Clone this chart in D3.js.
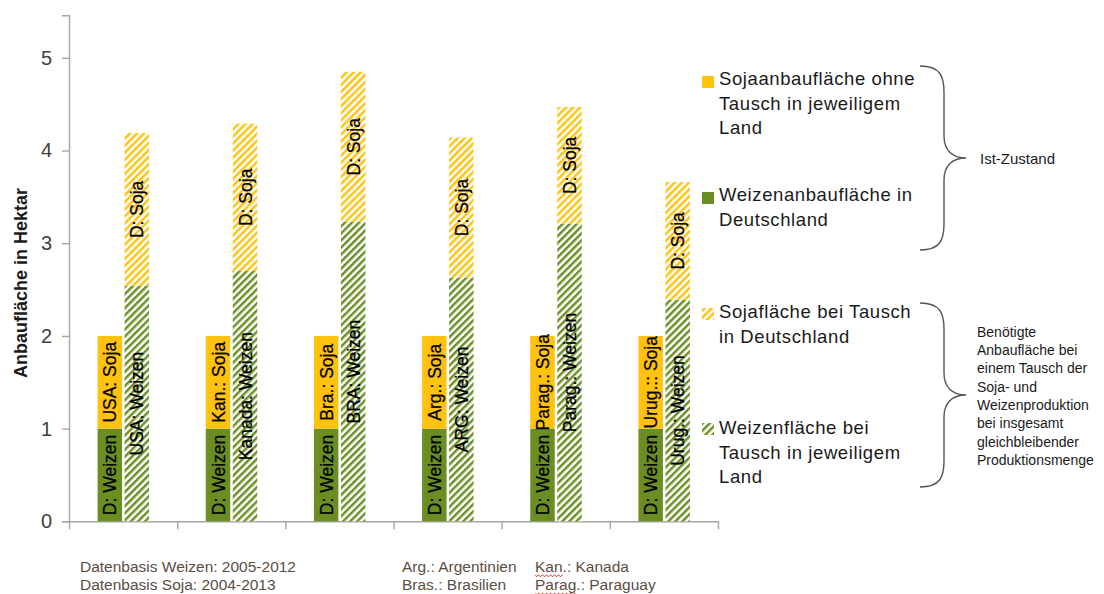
<!DOCTYPE html>
<html>
<head>
<meta charset="utf-8">
<script src="https://cdn.jsdelivr.net/npm/d3@7"></script>
<style>
  html, body { margin: 0; padding: 0; background: #fff; }
  svg { display: block; font-family: "Liberation Sans", Arial, sans-serif; }
</style>
</head>
<body>
<svg id="chart" width="1104" height="594"></svg>
<script>
// Anbaufläche je Länderpaar: Ist-Zustand vs. Tausch der Produktion
const categories = ["USA", "Kanada", "Brasilien", "Argentinien", "Paraguay", "Uruguay"];

// Ist-Zustand (gestapelt): Weizen in Deutschland + Soja im jeweiligen Land
const weizenDeutschland = [1, 1, 1, 1, 1, 1];
const sojaLand = [1, 1, 1, 1, 1, 1];

// Tausch (gestapelt): Weizen im jeweiligen Land + Soja in Deutschland
const weizenLandTausch = [2.54, 2.70, 3.23, 2.63, 3.21, 2.39];
const sojaDeutschlandTausch = [1.65, 1.59, 1.62, 1.51, 1.26, 1.27];

const labelWeizenDeutschland = ["D: Weizen", "D: Weizen", "D: Weizen", "D: Weizen", "D: Weizen", "D: Weizen"];
const labelSojaLand = ["USA: Soja", "Kan.: Soja", "Bra.: Soja", "Arg.: Soja", "Parag.: Soja", "Urug.:: Soja"];
const labelWeizenLand = ["USA: Weizen", "Kanada: Weizen", "BRA: Weizen", "ARG: Weizen", "Parag.: Weizen", "Urug.: Weizen"];
const labelSojaDeutschland = ["D: Soja", "D: Soja", "D: Soja", "D: Soja", "D: Soja", "D: Soja"];

const yTicks = [0, 1, 2, 3, 4, 5];

const GELB = "#FFC20E";
const GRUEN = "#6B8E23";

const svg = d3.select("#chart");

// Schraffuren für die Tausch-Balken
const defs = svg.append("defs");
function hatch(id, color) {
  const p = defs.append("pattern")
    .attr("id", id)
    .attr("patternUnits", "userSpaceOnUse")
    .attr("width", 5).attr("height", 5)
    .attr("patternTransform", "rotate(45)");
  p.append("rect").attr("width", 5).attr("height", 5).attr("fill", "#fff");
  p.append("line").attr("x1", 1.2).attr("y1", 0).attr("x2", 1.2).attr("y2", 5)
    .attr("stroke", color).attr("stroke-width", 2.5);
}
hatch("hatchGelb", GELB);
hatch("hatchGruen", GRUEN);

// Skalen
const y = d3.scaleLinear().domain([0, 5.46]).range([521.3, 15.2]);
const x = d3.scaleBand().domain(categories).range([69, 718]).paddingInner(0).paddingOuter(0);
const xEdges = d3.scaleLinear().domain([0, categories.length]).range([69, 718]);

const barW = 24.5;

// Achsen
const yAxis = svg.append("g")
  .attr("transform", "translate(69,0)")
  .call(d3.axisLeft(y).tickValues(yTicks).tickSize(7).tickPadding(10).tickFormat(d3.format("d")));
yAxis.select(".domain").attr("stroke", "#a6a6a6").attr("stroke-width", 1.4);
yAxis.selectAll(".tick line").attr("stroke", "#a6a6a6").attr("stroke-width", 1.4);
yAxis.selectAll(".tick text")
  .attr("fill", "#404040")
  .style("font-size", "20px")
  .style("font-family", "'Liberation Sans', Arial, sans-serif");

const xAxis = svg.append("g")
  .attr("transform", "translate(0,521.3)")
  .call(d3.axisBottom(xEdges).tickValues(d3.range(categories.length + 1)).tickSize(8).tickSizeOuter(0).tickFormat(""));
xAxis.select(".domain").attr("stroke", "#a6a6a6").attr("stroke-width", 1.4);
xAxis.selectAll(".tick line").attr("stroke", "#a6a6a6").attr("stroke-width", 1.4);

// Achsentitel
svg.append("text")
  .attr("transform", "translate(21,283) rotate(-90)")
  .attr("text-anchor", "middle")
  .attr("dominant-baseline", "central")
  .style("font-size", "18px")
  .style("font-weight", "bold")
  .attr("fill", "#1a1a1a")
  .text("Anbaufläche in Hektar");

// Segmente aufbauen
const segments = [];
categories.forEach((c, i) => {
  const cx = x(c) + x.bandwidth() / 2;
  segments.push({ x: cx - 25.5, y0: 0, y1: weizenDeutschland[i], fill: GRUEN, label: labelWeizenDeutschland[i] });
  segments.push({ x: cx - 25.5, y0: weizenDeutschland[i], y1: weizenDeutschland[i] + sojaLand[i], fill: GELB, label: labelSojaLand[i] });
  segments.push({ x: cx + 1.5, y0: 0, y1: weizenLandTausch[i], fill: "url(#hatchGruen)", label: labelWeizenLand[i] });
  segments.push({ x: cx + 1.5, y0: weizenLandTausch[i], y1: weizenLandTausch[i] + sojaDeutschlandTausch[i], fill: "url(#hatchGelb)", label: labelSojaDeutschland[i] });
});

const bars = svg.append("g");
bars.selectAll("rect")
  .data(segments)
  .join("rect")
  .attr("x", d => d.x)
  .attr("width", barW)
  .attr("y", d => y(d.y1))
  .attr("height", d => y(d.y0) - y(d.y1))
  .attr("fill", d => d.fill);

bars.selectAll("text")
  .data(segments)
  .join("text")
  .attr("transform", d => `translate(${d.x + barW / 2 + 0.5},${(y(d.y0) + y(d.y1)) / 2}) rotate(-90)`)
  .attr("text-anchor", "middle")
  .attr("dominant-baseline", "central")
  .style("font-size", "17.5px")
  .attr("fill", "#000")
  .attr("stroke", "#000")
  .attr("stroke-width", 0.25)
  .text(d => d.label);

// Legende
const legendText = "#1a1a1a";
const legend = svg.append("g").style("font-size", "18.5px").style("letter-spacing", "0.6px").attr("fill", legendText);
const legendItems = [
  { sw: GELB, top: 76, lines: ["Sojaanbaufläche ohne", "Tausch in jeweiligem", "Land"], base: 85 },
  { sw: GRUEN, top: 192, lines: ["Weizenanbaufläche in", "Deutschland"], base: 201 },
  { sw: "url(#hatchGelb)", top: 308, lines: ["Sojafläche bei Tausch", "in Deutschland"], base: 318 },
  { sw: "url(#hatchGruen)", top: 423, lines: ["Weizenfläche bei", "Tausch in jeweiligem", "Land"], base: 434 }
];
legendItems.forEach(it => {
  legend.append("rect").attr("x", 702).attr("y", it.top).attr("width", 12).attr("height", 12).attr("fill", it.sw);
  it.lines.forEach((l, j) => {
    legend.append("text").attr("x", 719).attr("y", it.base + j * 24.5).text(l);
  });
});

// Geschweifte Klammern
function brace(top, bottom) {
  const mid = (top + bottom) / 2;
  const x0 = 920, xv = 944, xt = 966;
  return `M${x0},${top} C${x0 + 20},${top} ${xv},${top + 10} ${xv},${top + 26}` +
    ` L${xv},${mid - 22} C${xv},${mid - 8} ${xv + 8},${mid} ${xt},${mid}` +
    ` C${xv + 8},${mid} ${xv},${mid + 8} ${xv},${mid + 22}` +
    ` L${xv},${bottom - 26} C${xv},${bottom - 10} ${x0 + 20},${bottom} ${x0},${bottom}`;
}
svg.append("path").attr("d", brace(66, 250)).attr("fill", "none").attr("stroke", "#555").attr("stroke-width", 1.4);
svg.append("path").attr("d", brace(303, 487)).attr("fill", "none").attr("stroke", "#555").attr("stroke-width", 1.4);

svg.append("text")
  .attr("x", 980).attr("y", 158)
  .attr("dominant-baseline", "central")
  .style("font-size", "15px")
  .attr("fill", "#1a1a1a")
  .text("Ist-Zustand");

const note2 = ["Benötigte", "Anbaufläche bei", "einem Tausch der", "Soja- und", "Weizenproduktion", "bei insgesamt", "gleichbleibender", "Produktionsmenge"];
svg.append("g").selectAll("text")
  .data(note2)
  .join("text")
  .attr("x", 977)
  .attr("y", (d, i) => 331.7 + i * 18.35)
  .attr("dominant-baseline", "central")
  .style("font-size", "14px")
  .attr("fill", "#1a1a1a")
  .text(d => d);

// Fußnoten
const notesColor = "#5c4d42";
const footnotes = [
  { x: 80, lines: ["Datenbasis Weizen: 2005-2012", "Datenbasis Soja: 2004-2013"] },
  { x: 402, lines: ["Arg.: Argentinien", "Bras.: Brasilien"] },
  { x: 535, lines: ["Kan.: Kanada", "Parag.: Paraguay"], squiggle: ["Kan", "Parag"] }
];
const fn = svg.append("g").style("font-size", "15.5px").attr("fill", notesColor);
footnotes.forEach(f => {
  f.lines.forEach((l, j) => {
    const t = fn.append("text").attr("x", f.x).attr("y", 572 + j * 18.3).text(l);
    if (f.squiggle) {
      const w = t.node().getSubStringLength(0, f.squiggle[j].length);
      const yy = 572 + j * 18.3 + 3;
      let d = `M${f.x},${yy}`;
      for (let k = 0; k * 2 < w; k++) {
        d += ` l1,${k % 2 ? -1.5 : 1.5} l1,0`;
      }
      fn.append("path").attr("d", d).attr("fill", "none").attr("stroke", "#e03030").attr("stroke-width", 0.8);
    }
  });
});
</script>
</body>
</html>
